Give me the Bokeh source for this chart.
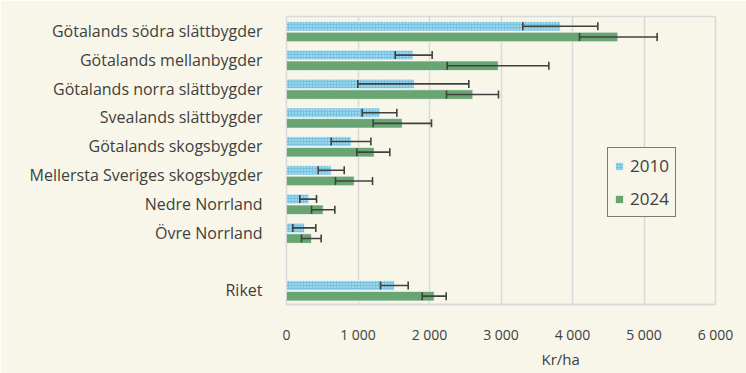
import math
from bokeh.plotting import figure
from bokeh.models import (ColumnDataSource, FactorRange, FixedTicker, Legend, LegendItem, Title)
from bokeh.transform import dodge
from bokeh.embed import file_html
from bokeh.resources import INLINE

# ---- data ----
categories = ["Götalands södra slättbygder", "Götalands mellanbygder", "Götalands norra slättbygder",
              "Svealands slättbygder", "Götalands skogsbygder", "Mellersta Sveriges skogsbygder",
              "Nedre Norrland", "Övre Norrland", "Riket"]
axis_order = ["Götalands södra slättbygder", "Götalands mellanbygder", "Götalands norra slättbygder",
              "Svealands slättbygder", "Götalands skogsbygder", "Mellersta Sveriges skogsbygder",
              "Nedre Norrland", "Övre Norrland", " ", "Riket"]
v2010 = [3830, 1770, 1790, 1305, 905, 625, 312, 252, 1510]
lo2010 = [3305, 1520, 998, 1058, 625, 443, 186, 88, 1315]
hi2010 = [4354, 2037, 2550, 1543, 1180, 807, 420, 410, 1702]
v2024 = [4634, 2961, 2606, 1618, 1226, 947, 513, 350, 2066]
lo2024 = [4098, 2247, 2238, 1212, 984, 685, 350, 210, 1898]
hi2024 = [5184, 3669, 2965, 2028, 1445, 1203, 676, 485, 2233]
x_ticks = [0, 1000, 2000, 3000, 4000, 5000, 6000]
x_tick_labels = ["0", "1 000", "2 000", "3 000", "4 000", "5 000", "6 000"]
series_names = ["2010", "2024"]
x_title = "Kr/ha"

BG = "#f8f6e9"
GRID = "#d9d9d9"
TXT = "#404040"
BLUE = "#74c3e1"
GREEN = "#68a572"
FONT = "Open Sans"

src = ColumnDataSource(dict(cat=categories, v2010=v2010, lo2010=lo2010, hi2010=hi2010,
                            v2024=v2024, lo2024=lo2024, hi2024=hi2024))

p = figure(width=746, height=373, output_backend="svg", toolbar_location=None,
           y_range=FactorRange(factors=list(reversed(axis_order)), range_padding=0),
           x_range=(0, 6000),
           min_border_left=286, min_border_right=31, min_border_top=16, min_border_bottom=69)
p.background_fill_color = BG
p.border_fill_color = BG
p.outline_line_color = GRID
p.outline_line_width = 1.5

OFF1, OFF2, H = 0.16, -0.21, 0.33
y1 = dodge("cat", OFF1, range=p.y_range)
y2 = dodge("cat", OFF2, range=p.y_range)

r1 = p.hbar(y=y1, right="v2010", left=0, height=H, source=src, fill_color=BLUE,
            line_color="#ffffff", line_width=0.6, hatch_pattern="dot", hatch_color="#ffffff",
            hatch_scale=3, hatch_weight=1.0, hatch_alpha=0.75)
r2 = p.hbar(y=y2, right="v2024", left=0, height=H, source=src, fill_color=GREEN,
            line_color="#ffffff", line_width=0.6)

for yy, lo, hi in [(y1, "lo2010", "hi2010"), (y2, "lo2024", "hi2024")]:
    p.segment(x0=lo, y0=yy, x1=hi, y1=yy, source=src, line_color=TXT, line_width=1.6)
    p.scatter(x=lo, y=yy, source=src, marker="dash", angle=math.pi / 2, size=8,
              line_color=TXT, line_width=1.6)
    p.scatter(x=hi, y=yy, source=src, marker="dash", angle=math.pi / 2, size=8,
              line_color=TXT, line_width=1.6)

# axes
p.xaxis.ticker = FixedTicker(ticks=x_ticks)
p.xaxis.major_label_overrides = {t: l for t, l in zip(x_ticks, x_tick_labels)}
p.xaxis.axis_line_color = GRID
p.xaxis.axis_line_width = 1.5
p.xaxis.major_tick_line_color = None
p.xaxis.minor_tick_line_color = None
p.xaxis.major_label_text_font = FONT
p.xaxis.major_label_text_font_size = "14px"
p.xaxis.major_label_text_color = TXT
p.xaxis.major_label_standoff = 14

p.yaxis.axis_line_color = None
p.yaxis.major_tick_line_color = None
p.yaxis.minor_tick_line_color = None
p.yaxis.major_label_text_font = FONT
p.yaxis.major_label_text_font_size = "16px"
p.yaxis.major_label_text_color = TXT
p.yaxis.major_label_standoff = 18

p.xgrid.grid_line_color = GRID
p.xgrid.grid_line_width = 1.5
p.ygrid.grid_line_color = None

p.add_layout(Title(text=x_title, align="left", offset=255, standoff=0,
                   text_font=FONT, text_font_size="15px", text_color=TXT,
                   text_font_style="normal"), "below")

legend = Legend(items=[LegendItem(label=series_names[0], renderers=[r1]),
                       LegendItem(label=series_names[1], renderers=[r2])],
                location=(321, 87), orientation="vertical",
                background_fill_color=BG, background_fill_alpha=1,
                border_line_color="#000000", border_line_width=1.5,
                label_text_font=FONT, label_text_font_size="17px", label_text_color=TXT,
                glyph_width=10, glyph_height=10, label_height=18, spacing=10,
                padding=6, margin=0, label_standoff=6)
p.add_layout(legend, "center")

open("out.html", "w").write(file_html(p, INLINE))
